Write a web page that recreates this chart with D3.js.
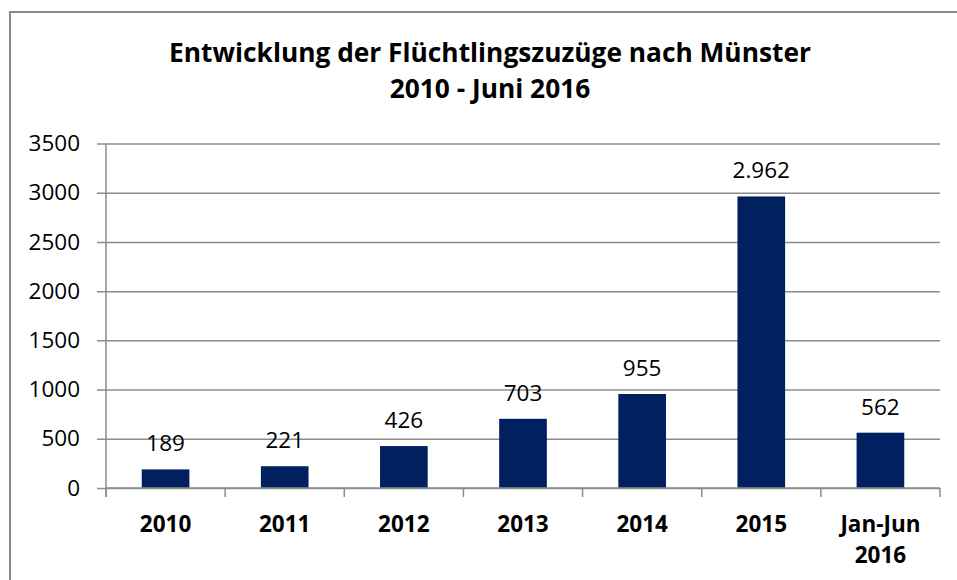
<!doctype html>
<html>
<head>
<meta charset="utf-8">
<title>Flüchtlingszuzüge Münster</title>
<style>
  body { margin:0; background:#fff; }
  svg { display:block; }
  .grid line { stroke:#8c8c8c; stroke-width:1.5px; }
  .grid text { font-family:"Open Sans", sans-serif; font-size:22.5px; fill:#000; }
  .xlab text { font-family:"Open Sans", sans-serif; font-size:22.5px; font-weight:bold; fill:#000; }
  .val { font-family:"Open Sans", sans-serif; font-size:22.5px; fill:#000; }
  .title { font-family:"Open Sans", sans-serif; font-size:26.3px; font-weight:bold; fill:#000; }
</style>
<script src="https://d3js.org/d3.v7.min.js"></script>
</head>
<body>
<svg id="chart" width="957" height="580"></svg>
<script>
// Daten
var categories = ["2010", "2011", "2012", "2013", "2014", "2015", "Jan-Jun 2016"]
var values = [189, 221, 426, 703, 955, 2962, 562]
var yTicks = [0, 500, 1000, 1500, 2000, 2500, 3000, 3500]
var titleLines = ["Entwicklung der Flüchtlingszuzüge nach Münster", "2010 - Juni 2016"]

var de = d3.formatLocale({ decimal: ",", thousands: ".", grouping: [3], currency: ["", " €"] })
var fmt = de.format(",")

var svg = d3.select("#chart")
var pLeft = 106, pRight = 940, pTop = 143.5, pBottom = 488

// Rahmen
svg.append("rect")
  .attr("x", 10).attr("y", 12).attr("width", 1000).attr("height", 1000)
  .style("fill", "none").style("stroke", "#8a8a8a").style("stroke-width", 2)

// Titel
svg.append("text").attr("class", "title")
  .attr("text-anchor", "middle")
  .selectAll("tspan").data(titleLines).enter().append("tspan")
  .attr("x", 490)
  .attr("y", function(d, i) { return 62 + i * 36 })
  .text(function(d) { return d })

var x = d3.scaleBand().domain(categories).range([pLeft, pRight]).paddingInner(0.6).paddingOuter(0.3)
var y = d3.scaleLinear().domain([0, 3500]).range([pBottom, pTop])

// Gitternetz + y-Achse
var grid = svg.append("g").attr("class", "grid")
  .attr("transform", "translate(97,0)")
  .call(d3.axisLeft(y).tickValues(yTicks).tickSize(-(pRight - 97)).tickPadding(17).tickFormat(d3.format("d")))
grid.select(".domain").remove()

svg.append("line")
  .attr("x1", pLeft).attr("x2", pLeft).attr("y1", pTop).attr("y2", pBottom + 9)
  .style("stroke", "#8c8c8c").style("stroke-width", 1.5)

// Balken
svg.selectAll(".bar").data(values).enter().append("rect")
  .attr("class", "bar")
  .attr("x", function(d, i) { return x(categories[i]) })
  .attr("width", x.bandwidth())
  .attr("y", function(d) { return y(d) })
  .attr("height", function(d) { return pBottom - y(d) })
  .style("fill", "#002060")

// Datenbeschriftung
svg.selectAll(".val").data(values).enter().append("text")
  .attr("class", "val")
  .attr("text-anchor", "middle")
  .attr("x", function(d, i) { return x(categories[i]) + x.bandwidth() / 2 })
  .attr("y", function(d) { return y(d) - 18 })
  .text(function(d) { return fmt(d) })

// x-Achse
svg.append("line")
  .attr("x1", pLeft).attr("x2", pRight).attr("y1", pBottom).attr("y2", pBottom)
  .style("stroke", "#8c8c8c").style("stroke-width", 1.5)

var step = x.step()
svg.selectAll(".xtick").data(d3.range(categories.length + 1)).enter().append("line")
  .attr("class", "xtick")
  .attr("x1", function(i) { return pLeft + i * step })
  .attr("x2", function(i) { return pLeft + i * step })
  .attr("y1", pBottom).attr("y2", pBottom + 9)
  .style("stroke", "#8c8c8c").style("stroke-width", 1.5)

var xlab = svg.append("g").attr("class", "xlab")
  .attr("transform", "translate(0," + pBottom + ")")
  .call(d3.axisBottom(x).tickSize(0))
xlab.select(".domain").remove()
xlab.selectAll("text").each(function(d) {
  var t = d3.select(this).text(null).attr("dy", null).attr("y", null)
  d.split(" ").forEach(function(part, i) {
    t.append("tspan").attr("x", 0).attr("y", 44 + i * 31).text(part)
  })
})
</script>
</body>
</html>
